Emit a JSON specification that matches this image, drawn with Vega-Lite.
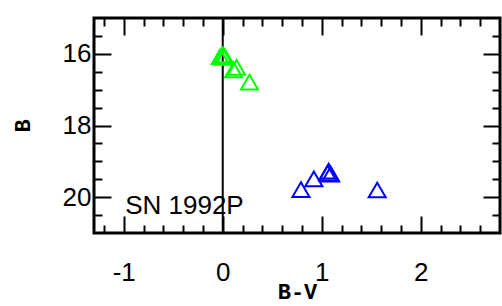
{
  "$schema": "https://vega.github.io/schema/vega-lite/v6.json",
  "width": 406,
  "height": 215,
  "autosize": "none",
  "padding": {"left": 94, "top": 18, "right": 2, "bottom": 73},
  "background": "white",
  "config": {
    "view": {"stroke": "black", "strokeWidth": 3},
    "font": "Liberation Sans",
    "axis": {
      "domain": false,
      "grid": false,
      "tickColor": "black",
      "tickWidth": 2,
      "labelFont": "Liberation Sans",
      "labelFontSize": 26,
      "labelColor": "black",
      "titleColor": "black",
      "titleFont": "Liberation Mono",
      "titleFontWeight": "bold",
      "titleFontSize": 22
    }
  },
  "layer": [
    {
      "data": {"values": [{"line": "zero"}]},
      "mark": {"type": "rule", "color": "black", "strokeWidth": 2},
      "encoding": {
        "x": {
          "datum": 0,
          "type": "quantitative",
          "scale": {"domain": [-1.3, 2.8], "nice": false, "zero": false},
          "axis": {
            "orient": "top",
            "title": null,
            "labels": false,
            "values": [-1.2, -1, -0.8, -0.6, -0.4, -0.2, 0, 0.2, 0.4, 0.6, 0.8, 1, 1.2, 1.4, 1.6, 1.8, 2, 2.2, 2.4, 2.6],
            "tickSize": {"condition": {"test": "abs(datum.value - round(datum.value)) < 0.001", "value": -17}, "value": -8}
          }
        }
      }
    },
    {
      "data": {
        "values": [
          {"bv": -0.025, "b": 16.08, "set": "early"},
          {"bv": 0.0, "b": 16.03, "set": "early"},
          {"bv": 0.01, "b": 16.1, "set": "early"},
          {"bv": 0.02, "b": 16.07, "set": "early"},
          {"bv": 0.11, "b": 16.45, "set": "early"},
          {"bv": 0.14, "b": 16.38, "set": "early"},
          {"bv": 0.27, "b": 16.79, "set": "early"},
          {"bv": 0.79, "b": 19.79, "set": "late"},
          {"bv": 0.92, "b": 19.49, "set": "late"},
          {"bv": 1.06, "b": 19.33, "set": "late"},
          {"bv": 1.07, "b": 19.27, "set": "late"},
          {"bv": 1.09, "b": 19.36, "set": "late"},
          {"bv": 1.56, "b": 19.8, "set": "late"}
        ]
      },
      "mark": {"type": "point", "shape": "triangle-up", "filled": false, "size": 290, "strokeWidth": 2, "opacity": 1},
      "encoding": {
        "x": {
          "field": "bv",
          "type": "quantitative",
          "scale": {"domain": [-1.3, 2.8], "nice": false, "zero": false},
          "axis": {
            "orient": "bottom",
            "title": "B-V",
            "titleY": 48,
            "titleBaseline": "top",
            "labelPadding": 43,
            "values": [-1.2, -1, -0.8, -0.6, -0.4, -0.2, 0, 0.2, 0.4, 0.6, 0.8, 1, 1.2, 1.4, 1.6, 1.8, 2, 2.2, 2.4, 2.6],
            "labelExpr": "abs(datum.value - round(datum.value)) < 0.001 ? '' + round(datum.value) : ''",
            "tickSize": {"condition": {"test": "abs(datum.value - round(datum.value)) < 0.001", "value": -17}, "value": -8}
          }
        },
        "y": {
          "field": "b",
          "type": "quantitative",
          "scale": {"domain": [15, 21], "reverse": true, "nice": false, "zero": false},
          "axis": {
            "orient": "left",
            "title": "B",
            "titlePadding": 28,
            "labelPadding": 20,
            "values": [15.5, 16, 16.5, 17, 17.5, 18, 18.5, 19, 19.5, 20, 20.5],
            "labelExpr": "abs(datum.value / 2 - round(datum.value / 2)) < 0.001 ? '' + round(datum.value) : ''",
            "tickSize": {"condition": {"test": "abs(datum.value / 2 - round(datum.value / 2)) < 0.001", "value": -17}, "value": -8}
          }
        },
        "color": {
          "field": "set",
          "type": "nominal",
          "scale": {"domain": ["early", "late"], "range": ["#00ff00", "#0000ff"]},
          "legend": null
        }
      }
    },
    {
      "data": {"values": [{"name": "SN 1992P"}]},
      "mark": {"type": "text", "align": "left", "baseline": "alphabetic", "fontSize": 26, "fontWeight": "normal", "font": "Liberation Sans", "fill": "black"},
      "encoding": {
        "text": {"field": "name", "type": "nominal"},
        "x": {
          "datum": -0.985,
          "type": "quantitative",
          "scale": {"domain": [-1.3, 2.8], "nice": false, "zero": false},
          "axis": null
        },
        "y": {
          "datum": 20.47,
          "type": "quantitative",
          "scale": {"domain": [15, 21], "reverse": true, "nice": false, "zero": false},
          "axis": {
            "orient": "right",
            "title": null,
            "labels": false,
            "values": [15.5, 16, 16.5, 17, 17.5, 18, 18.5, 19, 19.5, 20, 20.5],
            "tickSize": {"condition": {"test": "abs(datum.value / 2 - round(datum.value / 2)) < 0.001", "value": -17}, "value": -8}
          }
        }
      }
    }
  ],
  "resolve": {"axis": {"x": "independent", "y": "independent"}}
}
